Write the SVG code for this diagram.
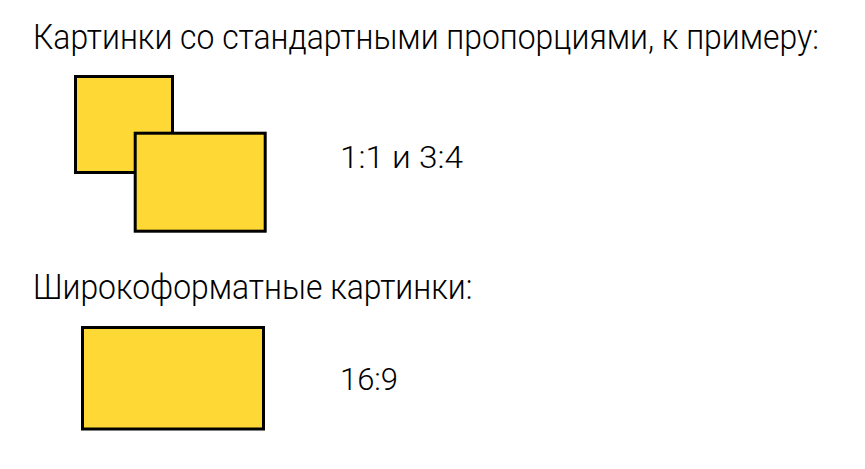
<svg xmlns="http://www.w3.org/2000/svg" width="865" height="469" viewBox="0 0 865 469">
<style>
.box{fill:#FED835;stroke:#000;stroke-width:3}
.t{font-family:Roboto,"Noto Sans","DejaVu Sans",sans-serif;fill:#000;font-weight:300}
.h{font-size:35px}
.l{font-size:31px}
</style>
<rect width="865" height="469" fill="#fff"/>
<text class="t h" transform="scale(0.911,1)" x="36.2" y="49">Картинки со стандартными пропорциями, к примеру:</text>
<g id="square-1-1"><rect class="box" x="75.5" y="76.5" width="97" height="96"/></g>
<g id="rect-3-4"><rect class="box" x="135.2" y="133.2" width="130" height="98"/></g>
<text class="t l" x="340" y="168" textLength="123" lengthAdjust="spacingAndGlyphs">1:1 и 3:4</text>
<text class="t h" transform="scale(0.911,1)" x="36.2" y="299">Широкоформатные картинки:</text>
<g id="rect-16-9"><rect class="box" x="82.5" y="327.5" width="181" height="101.5"/></g>
<text class="t l" x="340" y="390" textLength="58" lengthAdjust="spacingAndGlyphs">16:9</text>
</svg>
